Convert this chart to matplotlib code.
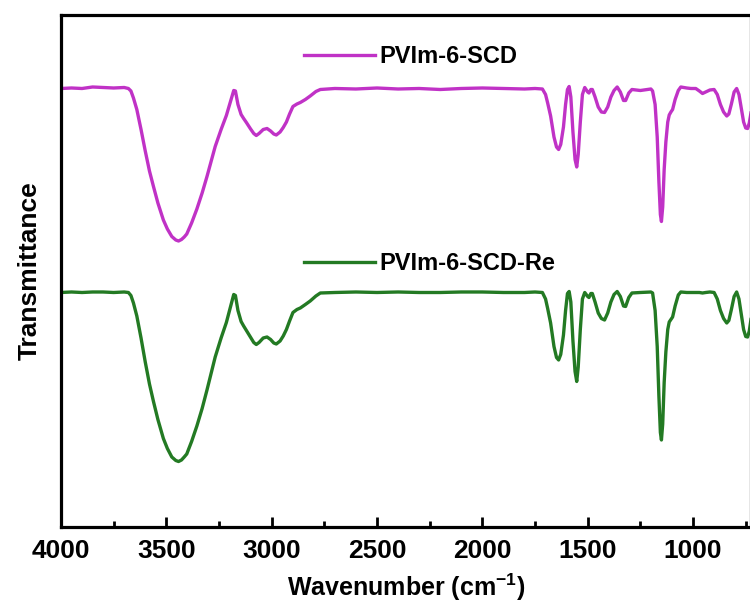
import numpy as np
import matplotlib
matplotlib.use('Agg')
import matplotlib.pyplot as plt
from matplotlib.ticker import MultipleLocator

plt.rcParams['font.family'] = ['Liberation Sans', 'DejaVu Sans']
plt.rcParams['font.weight'] = 'bold'

# wavenumber (cm-1)
wn = [4000, 3950, 3900, 3850, 3800, 3750, 3700, 3680, 3668, 3656, 3640, 3620,
      3600, 3580, 3561, 3540, 3514, 3495, 3474, 3455, 3442, 3428, 3415, 3403,
      3380, 3355, 3330, 3307, 3268, 3240, 3215, 3195, 3180, 3172, 3160, 3145,
      3133, 3120, 3100, 3085, 3073, 3060, 3040, 3022, 3005, 2990, 2978, 2960,
      2945, 2930, 2915, 2899, 2880, 2864, 2840, 2817, 2790, 2769, 2700, 2600,
      2500, 2400, 2300, 2200, 2100, 2000, 1900, 1800, 1750, 1715, 1700, 1690,
      1676, 1660, 1648, 1638, 1628, 1615, 1605, 1596, 1588, 1580, 1570, 1560,
      1552, 1545, 1535, 1525, 1514, 1500, 1494, 1485, 1478, 1465, 1450, 1435,
      1420, 1405, 1390, 1375, 1360, 1345, 1330, 1320, 1305, 1290, 1250, 1200,
      1192, 1180, 1170, 1162, 1155, 1150, 1144, 1137, 1129, 1120, 1113, 1105,
      1097, 1085, 1070, 1058, 1030, 1010, 987, 970, 955, 940, 920, 900,
      885, 870, 855, 840, 830, 818, 805, 793, 782, 770, 760, 750,
      741, 733, 725]

# transmittance (a.u.), PVIm-6-SCD
t_scd = [87.7, 87.8, 87.7, 88.0, 87.9, 87.8, 87.9, 87.7, 87.2, 85.8, 83.5, 79.5,
         75.2, 71.2, 68.1, 64.8, 61.4, 59.6, 58.1, 57.4, 57.2, 57.5, 58.0, 58.6,
         60.8, 63.6, 66.8, 70.1, 76.1, 79.5, 82.3, 85.2, 87.3, 87.2, 84.5, 82.5,
         81.7, 80.9, 79.6, 78.7, 78.3, 78.7, 79.5, 79.7, 79.2, 78.6, 78.4, 79.0,
         79.9, 81.0, 82.6, 84.1, 84.6, 84.9, 85.5, 86.2, 87.1, 87.5, 87.7, 87.6,
         87.8, 87.6, 87.7, 87.5, 87.7, 87.8, 87.7, 87.6, 87.7, 87.6, 86.5, 84.8,
         82.2, 78.0, 76.0, 75.5, 76.5, 80.0, 84.5, 87.5, 88.1, 86.0, 79.0, 73.5,
         72.0, 74.5, 81.0, 86.5, 87.9, 87.0, 86.8, 87.5, 87.5, 86.0, 84.0, 83.0,
         82.9, 84.0, 86.0, 87.3, 88.0, 87.0, 85.3, 85.3, 86.8, 87.5, 87.3, 87.6,
         87.2, 84.5, 78.0, 69.0, 62.5, 61.1, 64.0, 71.5, 77.0, 81.0, 82.4, 83.0,
         83.5, 85.5, 87.3, 88.0, 87.8, 87.7, 87.7, 87.2, 86.7, 87.0, 87.4, 87.5,
         86.5, 84.5, 83.0, 82.2, 82.6, 84.6, 87.0, 87.7, 86.5, 83.5, 81.0, 79.8,
         79.7, 80.8, 82.8]

# transmittance (a.u.), PVIm-6-SCD-Re
t_re = [46.9, 47.0, 46.9, 47.0, 47.0, 46.9, 47.0, 46.9, 46.3, 44.8, 42.2, 37.8,
        33.0, 28.6, 25.1, 21.5, 17.7, 15.7, 14.0, 13.3, 13.1, 13.4, 14.0, 14.6,
        17.1, 20.2, 23.7, 27.4, 34.0, 37.8, 40.9, 44.1, 46.5, 46.3, 43.3, 41.1,
        40.2, 39.3, 37.9, 36.9, 36.5, 36.9, 37.8, 38.0, 37.5, 36.8, 36.6, 37.2,
        38.2, 39.5, 41.2, 42.9, 43.5, 43.8, 44.5, 45.2, 46.2, 46.8, 46.9, 47.0,
        46.9, 47.0, 46.9, 46.9, 47.0, 47.0, 46.9, 46.9, 47.0, 46.9, 45.6, 43.7,
        40.8, 36.1, 33.9, 33.4, 34.5, 38.4, 43.3, 46.7, 47.1, 45.0, 37.2, 31.1,
        29.1, 32.0, 39.5, 45.6, 46.9, 46.1, 45.9, 46.7, 46.7, 45.0, 42.8, 41.7,
        41.4, 42.8, 45.0, 46.5, 47.1, 46.1, 44.2, 44.1, 45.9, 46.8, 46.9, 47.0,
        46.8, 43.3, 36.1, 26.1, 18.9, 17.4, 20.6, 28.9, 35.0, 39.5, 41.0, 41.5,
        42.0, 44.2, 46.4, 47.0, 46.9, 46.9, 46.9, 46.9, 46.8, 46.9, 47.0, 46.9,
        45.6, 43.3, 41.7, 40.8, 41.3, 43.5, 46.1, 47.0, 45.6, 42.2, 39.5, 38.1,
        38.0, 39.2, 41.5]

fig = plt.figure(figsize=(7.5, 6.12), dpi=100)
ax = fig.add_axes([0.0813, 0.1389, 0.9200, 0.8366])

l1, = ax.plot(wn, t_scd, color='#C032C6', lw=2.4, solid_joinstyle='round', label='PVIm-6-SCD')
l2, = ax.plot(wn, t_re, color='#237A23', lw=2.4, solid_joinstyle='round', label='PVIm-6-SCD-Re')

ax.set_xlim(4000, 725)
ax.set_ylim(0, 102.4)
ax.xaxis.set_major_locator(MultipleLocator(500))
ax.xaxis.set_minor_locator(MultipleLocator(250))
ax.tick_params(axis='x', which='major', direction='in', length=7, width=2, labelsize=19, pad=9)
ax.tick_params(axis='x', which='minor', direction='in', length=4, width=2)
ax.set_yticks([])
for s in ax.spines.values():
    s.set_linewidth(2.3)

ax.set_xlabel('Wavenumber (cm$^{\\mathregular{-1}}$)', fontsize=18, fontweight='bold', labelpad=6)
ax.set_ylabel('Transmittance', fontsize=19, fontweight='bold', labelpad=14)

leg_kw = dict(frameon=False, handlelength=3.0, handletextpad=0.2,
              borderpad=0, borderaxespad=0, loc='center left',
              prop={'weight': 'bold', 'size': 17})
leg1 = fig.legend(handles=[l1], bbox_to_anchor=(0.405, 0.907), **leg_kw)
leg2 = fig.legend(handles=[l2], bbox_to_anchor=(0.405, 0.569), **leg_kw)

fig.savefig('out.png', dpi=100)
